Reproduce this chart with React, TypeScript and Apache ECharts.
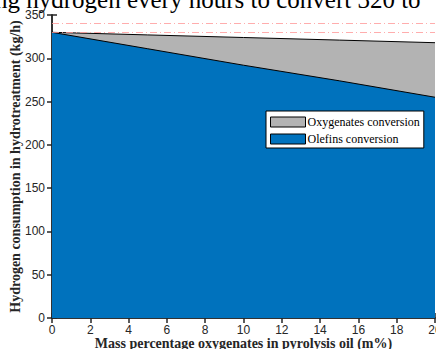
import React, { useEffect, useRef } from "react";
import * as echarts from "echarts";

const oxygenatePct = [0, 5, 10, 15, 20];
const totalHydrogen = [330, 327, 324, 321, 318];
const olefinsHydrogen = [330, 311, 292, 274, 255];
const referenceLines = [340, 330];
const legendNames = ["Oxygenates conversion", "Olefins conversion"];
const titleText = "ng hydrogen every hours to convert 320 to";

export default function App() {
  const ref = useRef<HTMLDivElement>(null);
  useEffect(() => {
    if (!ref.current) return;
    const chart = echarts.init(ref.current, undefined, { renderer: "svg" });
    const axisCommon = {
      axisLine: { show: true, lineStyle: { color: "#262626", width: 1.5 } },
      axisTick: { show: true, inside: true, length: 5, lineStyle: { color: "#262626", width: 1.5 } },
      splitLine: { show: false },
    };
    const total = oxygenatePct.map((x, i) => [x, totalHydrogen[i]]);
    const olef = oxygenatePct.map((x, i) => [x, olefinsHydrogen[i]]);
    chart.setOption({
      animation: false,
      grid: { left: 52, right: 1, top: 15, bottom: 31, outerBoundsMode: "none", containLabel: false },
      graphic: [
        {
          type: "text",
          x: -5,
          y: -1,
          z: 0,
          style: {
            text: titleText,
            font: "25px 'Liberation Serif'",
            fill: "#000",
            textAlign: "left",
            textVerticalAlign: "middle",
          },
        },
      ],
      legend: {
        orient: "vertical",
        left: 266,
        top: 111,
        width: 153,
        backgroundColor: "#fff",
        borderColor: "#000",
        borderWidth: 1,
        borderRadius: 0,
        padding: [5, 4, 3, 4],
        itemGap: 5,
        itemWidth: 35,
        itemHeight: 10,
        icon: "rect",
        data: legendNames,
        itemStyle: { borderColor: "#000", borderWidth: 1 },
        textStyle: { fontFamily: "Liberation Serif", fontSize: 12, color: "#000", padding: [0, 0, 0, -3] },
      },
      xAxis: [
        {
          type: "value",
          min: 0,
          max: 20,
          interval: 2,
          position: "bottom",
          ...axisCommon,
          axisLabel: { fontFamily: "Liberation Sans", fontSize: 12, color: "#262626", margin: 6 },
          name: "Mass percentage oxygenates in pyrolysis oil (m%)",
          nameLocation: "middle",
          nameGap: 18,
          nameMoveOverlap: false,
          nameTextStyle: { fontFamily: "Liberation Serif", fontWeight: "bold", fontSize: 14, color: "#262626" },
        },
        {
          type: "value",
          min: 0,
          max: 20,
          interval: 2,
          position: "top",
          ...axisCommon,
          axisLabel: { show: false },
        },
      ],
      yAxis: [
        {
          type: "value",
          min: 0,
          max: 350,
          interval: 50,
          position: "left",
          ...axisCommon,
          axisLabel: { fontFamily: "Liberation Sans", fontSize: 12, color: "#262626", margin: 7 },
          name: "Hydrogen consumption in hydrotreatment (kg/h)",
          nameLocation: "middle",
          nameGap: 30,
          nameMoveOverlap: false,
          nameTextStyle: { fontFamily: "Liberation Serif", fontWeight: "bold", fontSize: 14, color: "#262626" },
        },
        {
          type: "value",
          min: 0,
          max: 350,
          interval: 50,
          position: "right",
          ...axisCommon,
          axisLabel: { show: false },
        },
      ],
      series: [
        {
          name: legendNames[0],
          type: "line",
          data: total,
          symbol: "none",
          lineStyle: { color: "#000", width: 1 },
          itemStyle: { color: "#b3b3b3", borderColor: "#000", borderWidth: 1 },
          areaStyle: { color: "#b3b3b3", opacity: 1 },
          z: 2,
          markLine: {
            silent: true,
            symbol: "none",
            label: { show: false },
            lineStyle: { color: "#ff9999", width: 1, type: [7, 3, 1, 3], opacity: 0.8 },
            data: referenceLines.map((v) => ({ yAxis: v })),
          },
        },
        {
          name: legendNames[1],
          type: "line",
          data: olef,
          symbol: "none",
          lineStyle: { color: "#000", width: 1 },
          itemStyle: { color: "#0072bd", borderColor: "#000", borderWidth: 1 },
          areaStyle: { color: "#0072bd", opacity: 1 },
          z: 3,
        },
      ],
    });
    return () => chart.dispose();
  }, []);
  return <div ref={ref} style={{ width: 436, height: 349, position: "absolute", left: 0, top: 0 }} />;
}
